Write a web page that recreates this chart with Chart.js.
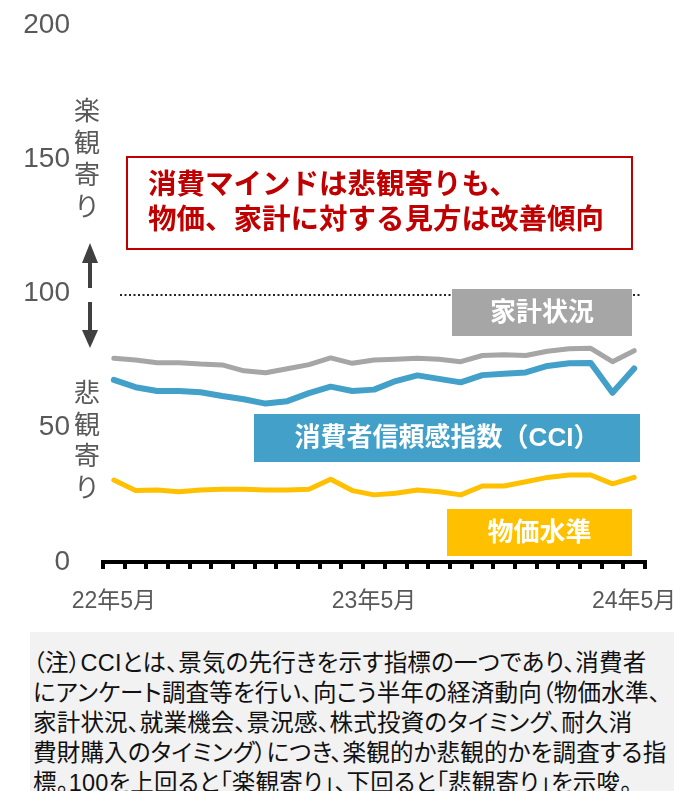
<!DOCTYPE html>
<html><head><meta charset="utf-8">
<script src="https://cdn.jsdelivr.net/npm/chart.js@4.4.1/dist/chart.umd.min.js"></script>
<style>
html,body{margin:0;padding:0;background:#fff;width:674px;height:791px;overflow:hidden;}
#wrap{position:absolute;left:0;top:0;width:674px;height:632px;}
#note{position:absolute;left:30px;top:632px;width:644px;height:159px;background:#f2f2f2;overflow:hidden;}
#note div{position:absolute;left:3px;top:16px;white-space:nowrap;font-family:'Liberation Sans','Noto Sans CJK JP',sans-serif;font-size:23.5px;letter-spacing:0.2px;line-height:30px;color:#111;font-feature-settings:"palt";}
</style></head>
<body>
<div id="wrap"><canvas id="c" width="674" height="632"></canvas></div>
<div id="note"><div>（注）CCIとは、景気の先行きを示す指標の一つであり、消費者<br>にアンケート調査等を行い、向こう半年の経済動向（物価水準、<br>家計状況、就業機会、景況感、株式投資のタイミング、耐久消<br>費財購入のタイミング）につき、楽観的か悲観的かを調査する指<br>標。100を上回ると「楽観寄り」、下回ると「悲観寄り」を示唆。</div></div>
<script>
const months = ["22年5月","22年6月","22年7月","22年8月","22年9月","22年10月","22年11月","22年12月","23年1月","23年2月","23年3月","23年4月","23年5月","23年6月","23年7月","23年8月","23年9月","23年10月","23年11月","23年12月","24年1月","24年2月","24年3月","24年4月","24年5月"];
const householdFinance = [75.9,75.2,74.2,74.2,73.7,73.4,71.2,70.5,72.0,73.5,76.0,74.0,75.2,75.5,75.9,75.5,74.6,76.9,77.2,76.9,78.5,79.4,79.6,74.6,78.7];
const cci = [67.8,65.1,63.7,63.7,63.2,61.8,60.6,59.0,59.9,62.9,65.3,63.7,64.2,67.4,69.5,68.2,66.9,69.6,70.1,70.6,73.0,74.0,74.1,63.0,72.1];
const priceLevel = [30.5,26.6,26.8,26.2,26.8,27.1,27.1,26.8,26.8,27.1,30.8,26.6,25.0,25.6,26.8,26.2,25.0,28.3,28.3,29.9,31.5,32.4,32.4,29.1,31.5];
const shownTickIdx = [0,12,24];
const yTicks = [0,50,100,150,200];
const neutralLevel = 100;
const seriesNames = ["家計状況","消費者信頼感指数（CCI）","物価水準"];
const titleLines = ["消費マインドは悲観寄りも、","物価、家計に対する見方は改善傾向"];
const upText = "楽観寄り", downText = "悲観寄り";

const FONT = "'Liberation Sans','Noto Sans CJK JP',sans-serif";
Chart.defaults.font.family = FONT;

const deco = {
  id:'deco',
  beforeDatasetsDraw(chart){
    const {ctx, chartArea:a, scales:{y}} = chart;
    const yy = y.getPixelForValue(neutralLevel)+1.5;
    ctx.save();
    ctx.strokeStyle='#222'; ctx.lineWidth=2; ctx.setLineDash([2,2.5]);
    ctx.beginPath(); ctx.moveTo(a.left+17, yy); ctx.lineTo(a.right-3, yy); ctx.stroke();
    ctx.restore();
  },
  afterDatasetsDraw(chart){
    const {ctx} = chart;
    ctx.save();
    ctx.strokeStyle='#c00000'; ctx.lineWidth=2;
    ctx.strokeRect(127,157,505,92);
    ctx.fillStyle='#c00000'; ctx.font="bold 28.5px "+FONT; ctx.textBaseline='middle'; ctx.textAlign='left';
    ctx.fillText(titleLines[0],148,186);
    ctx.fillText(titleLines[1],148,221);
    const boxes = [
      {x:452,y:289,w:180,h:47,c:'#a6a6a6',t:seriesNames[0]},
      {x:254,y:414,w:386,h:48,c:'#42a0c9',t:seriesNames[1]},
      {x:447,y:509,w:185,h:47,c:'#ffc000',t:seriesNames[2]}
    ];
    ctx.textAlign='center';
    for(const b of boxes){
      ctx.fillStyle=b.c; ctx.fillRect(b.x,b.y,b.w,b.h);
      ctx.fillStyle='#fff'; ctx.font="bold 26px "+FONT;
      ctx.fillText(b.t,b.x+b.w/2,b.y+b.h/2+1);
    }
    ctx.fillStyle='#595959'; ctx.font="26px "+FONT;
    [...upText].forEach((ch,i)=>ctx.fillText(ch,87,113+i*32));
    [...downText].forEach((ch,i)=>ctx.fillText(ch,87,395+i*31.5));
    ctx.fillStyle='#404040'; ctx.strokeStyle='#404040'; ctx.lineWidth=4; ctx.setLineDash([]);
    ctx.beginPath(); ctx.moveTo(90,243); ctx.lineTo(98,263); ctx.lineTo(82,263); ctx.closePath(); ctx.fill();
    ctx.beginPath(); ctx.moveTo(90,262); ctx.lineTo(90,288); ctx.stroke();
    ctx.beginPath(); ctx.moveTo(90,302); ctx.lineTo(90,331); ctx.stroke();
    ctx.beginPath(); ctx.moveTo(90,348); ctx.lineTo(98,330); ctx.lineTo(82,330); ctx.closePath(); ctx.fill();
    ctx.restore();
  }
};

new Chart(document.getElementById('c'),{
  type:'line',
  data:{labels:months,datasets:[
    {label:seriesNames[0],data:householdFinance,borderColor:'#a6a6a6',borderWidth:5},
    {label:seriesNames[1],data:cci,borderColor:'#42a0c9',borderWidth:6},
    {label:seriesNames[2],data:priceLevel,borderColor:'#ffc000',borderWidth:5}
  ].map(d=>Object.assign(d,{pointRadius:0,tension:0,fill:false,borderJoinStyle:'round',borderCapStyle:'round'}))},
  options:{
    responsive:false,animation:false,
    layout:{padding:{left:0,right:29,top:25,bottom:0}},
    plugins:{legend:{display:false},tooltip:{enabled:false}},
    scales:{
      x:{offset:true,
        grid:{display:true,offset:true,drawOnChartArea:false,drawTicks:true,tickLength:7,lineWidth:4,color:'#000'},
        border:{display:true,width:4,color:'#000'},
        ticks:{autoSkip:false,maxRotation:0,padding:19,color:'#595959',font:{size:23},
          callback:(v,i)=>shownTickIdx.includes(i)?months[i]:''},
        afterFit:s=>{s.height=70;s.paddingLeft=0;s.paddingRight=0;}
      },
      y:{min:yTicks[0],max:yTicks[yTicks.length-1],
        grid:{display:false,drawTicks:false},border:{display:false},
        ticks:{stepSize:50,padding:33,color:'#595959',font:{size:28}},
        afterFit:s=>{s.width=103;s.paddingTop=0;s.paddingBottom=0;}
      }
    }
  },
  plugins:[deco]
});
</script>
</body></html>
